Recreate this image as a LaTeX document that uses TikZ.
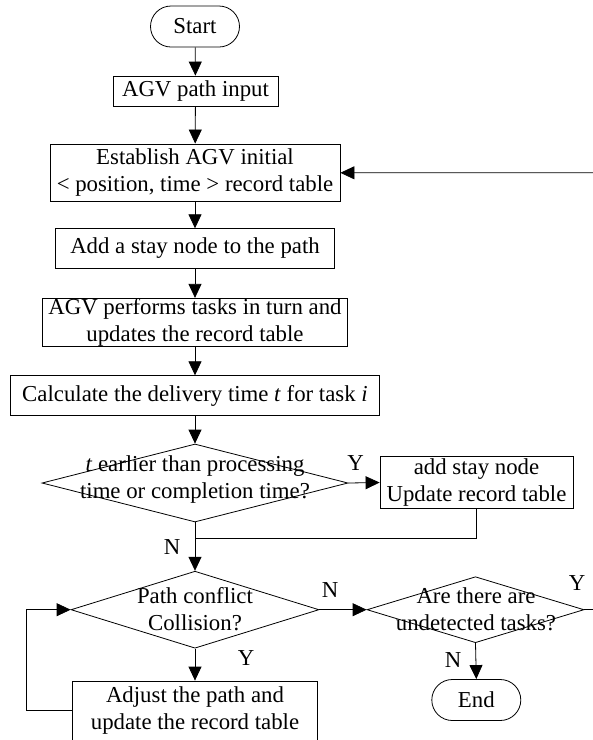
\documentclass[tikz,border=0pt]{standalone}
\usepackage{fontspec}
\setmainfont{Liberation Serif}
\usetikzlibrary{arrows.meta,shapes.geometric}
\begin{document}
\begin{tikzpicture}[x=1pt,y=-1pt,
  every node/.style={font=\fontsize{22.8}{27}\selectfont},
  box/.style={draw,line width=0.8pt,inner sep=0pt,align=center,minimum width=#1},
  term/.style={draw,line width=0.8pt,rounded corners=20.5pt,minimum width=89pt,minimum height=41pt,inner sep=0pt},
  dbox/.style={draw,line width=0.8pt,shape=diamond,inner sep=0pt},
  dtext/.style={align=center,inner sep=0pt},
  lab/.style={inner sep=0pt},
  line/.style={line width=0.8pt},
  arr/.style={line width=0.8pt,-{Triangle[length=14pt,width=13pt]}}]
\useasboundingbox (0,0) rectangle (593,740);
\node[term] (start) at (195,26.5) {Start};
\node[box=165pt,minimum height=30pt] (input) at (195.5,91) {AGV path input};
\node[box=290pt,minimum height=57.7pt] (est) at (195,172.8) {Establish AGV initial\\< position, time > record table};
\node[box=279pt,minimum height=39.6pt] (stay) at (195,248.5) {Add a stay node to the path};
\node[box=305.6pt,minimum height=48.4pt] (perf) at (195,322.5) {AGV performs tasks in turn and\\updates the record table};
\node[box=368.4pt,minimum height=40pt] (calc) at (195,395.7) {Calculate the delivery time \textit{t} for task \textit{i}};
\node[dbox,minimum width=306pt,minimum height=78pt] (d1) at (195,483) {};
\node[dtext] at (195,480) {\textit{t} earlier than processing\\time or completion time?};
\node[box=193pt,minimum height=51.6pt] (as) at (476.5,482.5) {add stay node\\Update record table};
\coordinate (j) at (195,538.3);
\node[dbox,minimum width=248pt,minimum height=77pt] (d2) at (195,609.7) {};
\node[dtext] at (195,609) {Path conflict\\Collision?};
\node[dbox,minimum width=217pt,minimum height=66pt] (d3) at (475.5,609.7) {};
\node[dtext] at (476,609) {Are there are\\undetected tasks?};
\node[term] (end) at (476.3,700) {End};
\node[box=244.6pt,minimum height=59pt] (adj) at (195,710.5) {Adjust the path and\\update the record table};
\coordinate (loopx) at (26.7,710.5);
\coordinate (rout) at (593,609.7);
\coordinate (rin) at (593,172.7);
% labels
\node[lab] at (355.5,463) {Y};
\node[lab] at (172,547) {N};
\node[lab] at (330,590) {N};
\node[lab] at (577,583) {Y};
\node[lab] at (453,660) {N};
\node[lab] at (246,658) {Y};
% connectors
\draw[arr] (start) -- (input);
\draw[arr] (input) -- (est);
\draw[arr] (est) -- (stay);
\draw[arr] (stay) -- (perf);
\draw[arr] (perf) -- (calc);
\draw[arr] (calc) -- (d1);
\draw[arr] (d1.east) -- (as.west);
\draw[line] (as.south) |- (j);
\draw[arr] (d1.south) -- (d2.north);
\draw[arr] (d2.east) -- (d3.west);
\draw[arr] (d2.south) -- (adj.north);
\draw[arr] (adj.west) -- (loopx) |- (d2.west);
\draw[arr] (d3.south) -- (end.north);
\draw[line] (d3.east) -- (rout);
\draw[arr] (rin) -- (est.east);
\end{tikzpicture}
\end{document}
